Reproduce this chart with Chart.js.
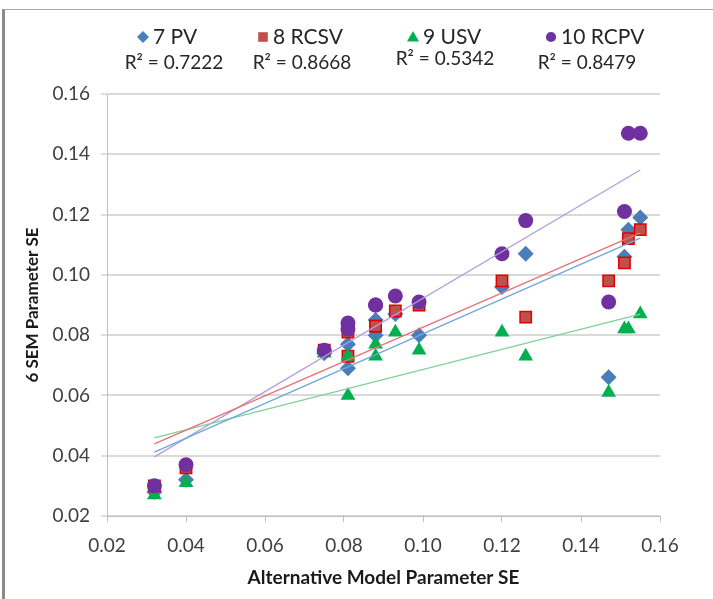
<!DOCTYPE html>
<html>
<head>
<meta charset="utf-8">
<script src="https://cdn.jsdelivr.net/npm/chart.js@4.4.1/dist/chart.umd.min.js"></script>
<style>
  html, body { margin: 0; padding: 0; background: #fff; }
  #wrap {
    position: absolute; left: 2px; top: 9px;
    width: 708px; height: 589px;
    border-left: 3px solid #8a8a8a; border-top: 1px solid #a6a6a6;
  }
</style>
</head>
<body>
<div id="wrap"><canvas id="semChart"></canvas></div>
<script>
// values
const seriesNames = ['7 PV', '8 RCSV', '9 USV', '10 RCPV'];
const r2Labels = ['R\u00B2 = 0.7222', 'R\u00B2 = 0.8668', 'R\u00B2 = 0.5342', 'R\u00B2 = 0.8479'];

const altSE  = [0.032, 0.040, 0.075, 0.081, 0.081, 0.088, 0.088, 0.093, 0.099, 0.120, 0.126, 0.147, 0.151, 0.152, 0.155];
const pvSE   = [0.028, 0.032, 0.074, 0.077, 0.069, 0.085, 0.080, 0.087, 0.080, 0.096, 0.107, 0.066, 0.106, 0.115, 0.119];
const rcsvSE = [0.030, 0.036, 0.075, 0.081, 0.073, 0.083, 0.083, 0.088, 0.090, 0.098, 0.086, 0.098, 0.104, 0.112, 0.115];
const usvSE  = [0.027, 0.031, 0.074, 0.073, 0.060, 0.077, 0.073, 0.081, 0.075, 0.081, 0.073, 0.061, 0.082, 0.082, 0.087];
const rcpvSE = [0.030, 0.037, 0.075, 0.084, 0.082, 0.090, 0.090, 0.093, 0.091, 0.107, 0.118, 0.091, 0.121, 0.147, 0.147];

// trendline ends as drawn in the picture
const trendX    = [0.032, 0.155];
const pvTrend   = [0.0412, 0.1122];
const rcsvTrend = [0.0439, 0.1139];
const usvTrend  = [0.0459, 0.0870];
const rcpvTrend = [0.0396, 0.1348];

const xTicks = [0.02, 0.04, 0.06, 0.08, 0.10, 0.12, 0.14, 0.16];
const yTicks = [0.02, 0.04, 0.06, 0.08, 0.10, 0.12, 0.14, 0.16];

const markerColors = ['#4a7ebb', '#c0504d', '#00b050', '#7030a0'];
const markerBorders = ['#4a7ebb', '#e00000', '#00b050', '#7030a0'];
const markerStyles = ['rectRot', 'rect', 'triangle', 'circle'];
const markerSizes = [8, 8, 8.5, 7.5];
const trendColors = ['#6fa8dc', '#e57373', '#7fd19b', '#b39ddb'];

function toPoints(xs, ys) {
    return xs.map((x, i) => ({ x: x, y: ys[i] }));
}

const seriesValues = [pvSE, rcsvSE, usvSE, rcpvSE];
const trendValues = [pvTrend, rcsvTrend, usvTrend, rcpvTrend];

const datasets = [];
seriesValues.forEach((vals, i) => {
    datasets.push({
        type: 'scatter',
        label: seriesNames[i],
        data: toPoints(altSE, vals),
        pointStyle: markerStyles[i],
        pointRadius: markerSizes[i],
        pointHoverRadius: markerSizes[i],
        backgroundColor: markerColors[i],
        borderColor: markerBorders[i],
        borderWidth: i === 1 ? 1.5 : 0,
        order: 4 - i
    });
});
trendValues.forEach((vals, i) => {
    datasets.push({
        type: 'line',
        label: 'Linear (' + seriesNames[i] + ')',
        data: toPoints(trendX, vals),
        borderColor: trendColors[i],
        borderWidth: 1.3,
        pointRadius: 0,
        fill: false,
        order: 0
    });
});

function drawMarker(ctx, style, x, y, r) {
    ctx.beginPath();
    if (style === 'rectRot') {
        ctx.moveTo(x, y - r); ctx.lineTo(x + r, y); ctx.lineTo(x, y + r); ctx.lineTo(x - r, y);
    } else if (style === 'rect') {
        ctx.rect(x - r * 0.8, y - r * 0.8, r * 1.6, r * 1.6);
    } else if (style === 'triangle') {
        ctx.moveTo(x, y - r); ctx.lineTo(x + r, y + r * 0.75); ctx.lineTo(x - r, y + r * 0.75);
    } else {
        ctx.arc(x, y, r * 0.85, 0, Math.PI * 2);
    }
    ctx.closePath();
    ctx.fill();
}

// legend row and R² row above the plot, like the excel one
const legendPlugin = {
    id: 'excelLegend',
    afterDraw(chart) {
        const ctx = chart.ctx;
        const legendX = [138, 258, 408, 546];
        const r2X = [169, 297, 440, 582];
        const r2Y = [53, 53, 49, 53];
        ctx.save();
        ctx.textBaseline = 'middle';
        seriesNames.forEach((name, i) => {
            ctx.fillStyle = markerColors[i];
            drawMarker(ctx, markerStyles[i], legendX[i], 27, 6);
            ctx.fillStyle = '#262626';
            ctx.textAlign = 'left';
            ctx.font = '21px Lato, "Open Sans", sans-serif';
            ctx.fillText(name, legendX[i] + 10, 27);
            ctx.textAlign = 'center';
            ctx.font = '19px Lato, "Open Sans", sans-serif';
            ctx.fillText(r2Labels[i], r2X[i], r2Y[i]);
        });
        ctx.restore();
    }
};

Chart.defaults.font.family = 'Lato, "Open Sans", sans-serif';
Chart.defaults.color = '#404040';

const ctx = document.getElementById('semChart').getContext('2d');
const semChart = new Chart(ctx, {
    type: 'scatter',
    data: { datasets: datasets },
    options: {
        responsive: true,
        maintainAspectRatio: false,
        animation: false,
        layout: { padding: { left: 0, top: 84, right: 53, bottom: 0 } },
        plugins: {
            legend: { display: false },
            tooltip: { enabled: false }
        },
        scales: {
            x: {
                type: 'linear',
                min: 0.02,
                max: 0.16,
                afterBuildTicks: scale => { scale.ticks = xTicks.map(v => ({ value: v })); },
                afterFit: scale => { scale.height = 83; },
                ticks: {
                    font: { size: 19 },
                    padding: 12,
                    maxRotation: 0,
                    callback: v => v.toFixed(2)
                },
                grid: {
                    drawOnChartArea: false,
                    drawTicks: true,
                    tickLength: 6,
                    tickColor: '#bfbfbf'
                },
                border: { color: '#bfbfbf' },
                title: {
                    display: true,
                    text: 'Alternative Model Parameter SE',
                    color: '#1a1a1a',
                    font: { size: 19, weight: 'bold' },
                    padding: { top: 0, bottom: 10 }
                }
            },
            y: {
                type: 'linear',
                min: 0.02,
                max: 0.16,
                afterBuildTicks: scale => { scale.ticks = yTicks.map(v => ({ value: v })); },
                afterFit: scale => { scale.width = 102; },
                ticks: {
                    font: { size: 19 },
                    padding: 11,
                    callback: v => v.toFixed(2)
                },
                grid: {
                    color: '#d9d9d9',
                    lineWidth: 2,
                    tickLength: 6,
                    tickColor: '#bfbfbf',
                    tickWidth: 1
                },
                border: { color: '#bfbfbf' },
                title: {
                    display: true,
                    text: '6 SEM Parameter SE',
                    color: '#1a1a1a',
                    font: { size: 17, weight: 'bold' },
                    padding: { top: 17, bottom: 0 }
                }
            }
        }
    },
    plugins: [legendPlugin]
});
</script>
</body>
</html>
